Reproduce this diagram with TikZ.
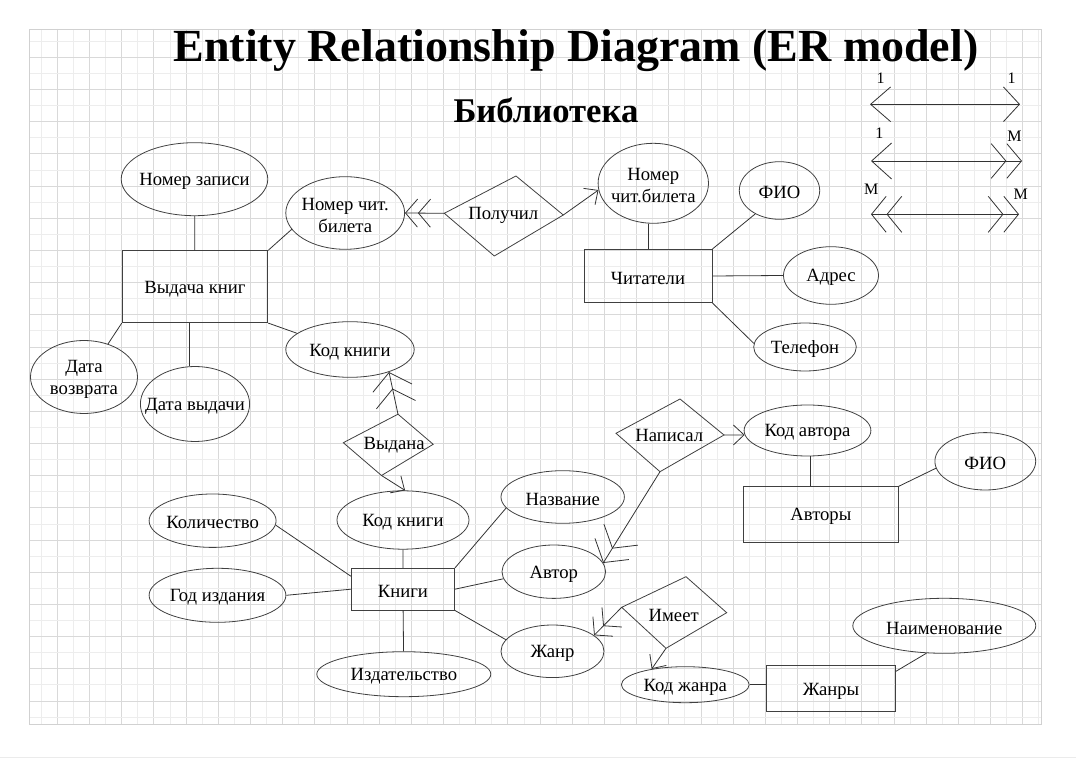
\documentclass[tikz,border=0pt]{standalone}
\usepackage{fontspec}
\setmainfont{Liberation Serif}
\usetikzlibrary{shapes.geometric,arrows.meta}

\begin{document}
\begin{tikzpicture}[x=0.75pt, y=-0.75pt,
    font=\fontsize{14}{16.5}\selectfont,
    line width=0.6pt,
    every label/.style={yshift=-1.7pt},
    gridminor/.style={black!7, line width=0.5pt},
    gridmajor/.style={black!15, line width=0.5pt},
    attr/.style 2 args={ellipse, draw=black!75, inner sep=0pt,
      minimum width=#1*1.5pt, minimum height=#2*1.5pt},
    ent/.style 2 args={rectangle, draw=black!75, inner sep=0pt,
      minimum width=#1*0.75pt, minimum height=#2*0.75pt},
    rel/.style={draw=black!75},
    link/.style={draw=black!80},
    toone/.style={-{Straight Barb[length=8pt,width=15pt]}},
    tomany/.style={-{Straight Barb[length=9pt,width=21pt,sep=0pt]Straight Barb[length=9pt,width=21pt,sep=0pt]}},
    tomanybig/.style={-{Straight Barb[length=12pt,width=30pt,sep=0pt]Straight Barb[length=12pt,width=30pt,sep=0pt]}},
    cardlabel/.style={font=\fontsize{12}{14}\selectfont},
  ]
  \useasboundingbox (0,0) rectangle (1076,762);
  % grid
  \foreach \n in {1,...,63}{
    \pgfmathsetmacro{\gx}{25.1+16.09*\n}
    \ifodd\n \draw[gridminor] (\gx,29) -- (\gx,724);
    \else \draw[gridmajor] (\gx,29) -- (\gx,724); \fi
  }
  \foreach \n in {1,...,43}{
    \pgfmathsetmacro{\gy}{25.1+16.09*\n}
    \ifodd\n \draw[gridminor] (29,\gy) -- (1041,\gy);
    \else \draw[gridmajor] (29,\gy) -- (1041,\gy); \fi
  }
  \draw[black!18] (29,29) rectangle (1041,724);
  \draw[black!8] (0,757) -- (1076,757);

  % titles
  \node[font=\fontsize{34.5}{40}\selectfont\bfseries, anchor=base] (ttl) at (576,61.7) {Entity Relationship Diagram (ER model)};
  \node[font=\fontsize{26}{30}\selectfont\bfseries, anchor=base] (sub) at (546,122.7) {Библиотека};

  % entities
  \node[ent={145.7}{72}, label=center:Выдача книг] (vydacha) at (195,286.7) {};
  \node[ent={128.2}{53.3}, label=center:Читатели] (chit) at (648,276) {};
  \node[ent={103.3}{41.7}, label=center:Книги] (knigi) at (402.9,589.2) {};
  \node[ent={154.9}{55.6}, label=center:Авторы] (avtory) at (820.9,514.5) {};
  \node[ent={129.3}{46}, label=center:Жанры] (zhanry) at (831,688.7) {};

  % attributes
  \node[attr={73.3}{36.5}, label=center:Номер записи] (nzap) at (194.5,179.2) {};
  \node[attr={59.4}{36.3}, label={[align=center]center:Номер чит.\\билета}] (nchit) at (345.2,213) {};
  \node[attr={64.2}{27.8}, label=center:Код книги] (kodkn1) at (350,349.5) {};
  \node[attr={53.5}{36.5}, label={[align=center]center:Дата\\возврата}] (datav) at (84,377) {};
  \node[attr={54.6}{37.5}, label=center:Дата выдачи] (datavyd) at (195,404) {};
  \node[attr={55.2}{40}, label={[align=center]center:Номер\\чит.билета}] (nchb) at (653.3,183.3) {};
  \node[attr={40.2}{28.8}, label=center:ФИО] (fio1) at (779.5,190.5) {};
  \node[attr={47.5}{28.8}, label=center:Адрес] (adres) at (831,275.5) {};
  \node[attr={51.3}{24}, label=center:Телефон] (tel) at (805,347) {};
  \node[attr={66}{29.2}, label=center:Код книги] (kodkn2) at (403,520) {};
  \node[attr={63.5}{26.7}, label=center:Количество] (kol) at (212.6,520.7) {};
  \node[attr={68.4}{27}, label=center:Год издания] (god) at (217.5,595.3) {};
  \node[attr={87}{22.5}, label=center:Издательство] (izd) at (403.8,674.2) {};
  \node[attr={61.7}{26.3}, label=center:Название] (nazv) at (562.7,497) {};
  \node[attr={51.8}{26.7}, label=center:Автор] (avtor) at (553.8,571.7) {};
  \node[attr={51.5}{26.3}, label=center:Жанр] (zhanr) at (552.5,651.3) {};
  \node[attr={63.4}{25.5}, label=center:Код автора] (kodavt) at (807.5,430.5) {};
  \node[attr={50.4}{28.7}, label=center:ФИО] (fio2) at (985.3,461.3) {};
  \node[attr={63.9}{18}, label=center:Код жанра] (kodzh) at (685.3,684.7) {};
  \node[attr={91.5}{27.5}, label=center:Наименование] (naim) at (944.3,625.8) {};

  % relationships
  \coordinate (pol-l) at (444.3,213.3);
  \coordinate (pol-t) at (516,176);
  \coordinate (pol-r) at (563.3,215);
  \coordinate (pol-b) at (494.3,256);
  \draw[rel] (pol-l) -- (pol-t) -- (pol-r) -- (pol-b) -- cycle;
  \node (pol) at (503.3,215) {Получил};

  \coordinate (vydana-l) at (343.3,442.7);
  \coordinate (vydana-t) at (398,414.2);
  \coordinate (vydana-r) at (433.2,444.3);
  \coordinate (vydana-b) at (381.5,475.5);
  \draw[rel] (vydana-l) -- (vydana-t) -- (vydana-r) -- (vydana-b) -- cycle;
  \node (vydana) at (394.2,445.5) {Выдана};

  \coordinate (napisal-l) at (616,433.3);
  \coordinate (napisal-t) at (680,399);
  \coordinate (napisal-r) at (724,435);
  \coordinate (napisal-b) at (660,471.7);
  \draw[rel] (napisal-l) -- (napisal-t) -- (napisal-r) -- (napisal-b) -- cycle;
  \node (napisal) at (669.2,435.5) {Написал};

  \coordinate (imeet-l) at (621.7,607.3);
  \coordinate (imeet-t) at (686,576.7);
  \coordinate (imeet-r) at (726.7,612.7);
  \coordinate (imeet-b) at (666,648.3);
  \draw[rel] (imeet-l) -- (imeet-t) -- (imeet-r) -- (imeet-b) -- cycle;
  \node (imeet) at (673.7,615) {Имеет};

  % connectors
  \draw[link] (nzap) -- (vydacha);
  \draw[link] (vydacha.north east) -- (nchit.197);
  \draw[link] (vydacha.south east) -- (kodkn1.163);
  \draw[link] (vydacha.south west) -- (datav.54);
  \draw[link] (datavyd.98) -- (datavyd.98 |- vydacha.south);
  \draw[link] (chit.north) -- (chit.north |- nchb.south);
  \draw[link] (chit.north east) -- (fio1.224);
  \draw[link] (chit.east) -- (adres.west);
  \draw[link] (chit.south east) -- (tel.176);
  \draw[link] (kodkn2) -- (knigi);
  \draw[link] (kol.356) -- (knigi.166);
  \draw[link] (god.east) -- (knigi.west);
  \draw[link] (knigi) -- (izd);
  \draw[link] (knigi.north east) -- (nazv.191);
  \draw[link] (knigi.east) -- (avtor.188);
  \draw[link] (knigi.south east) -- (zhanr.166);
  \draw[link] (kodavt.276) -- (kodavt.276 |- avtory.north);
  \draw[link] (avtory.north east) -- (fio2.188);
  \draw[link] (kodzh.east) -- (kodzh.east -| zhanry.west);
  \draw[link] (zhanry.15) -- (naim.237);

  \draw[link, tomany] (pol-l) -- (nchit.east);
  \draw[link, toone] (pol-r) -- (nchb.187);
  \draw[link, tomanybig] (vydana-t) -- (kodkn1.330);
  \draw[link, toone] (vydana-b) -- (kodkn2.86);
  \draw[link, toone] (napisal-r) -- (kodavt.184);
  \draw[link, tomanybig] (napisal-b) -- (avtor.10);
  \draw[link, tomany] (imeet-l) -- (zhanr.21);
  \draw[link, toone] (imeet-b) -- (kodzh.155);

  % legend
  \coordinate (l1) at (870,104.3);
  \coordinate (r1) at (1020,104.3);
  \coordinate (l2) at (871,161);
  \coordinate (r2) at (1022,161);
  \coordinate (l3) at (871,214.3);
  \coordinate (r3) at (1019,214.3);
  \draw[link, {Straight Barb[length=15pt,width=26pt]}-{Straight Barb[length=12pt,width=26pt]}] (l1) -- (r1);
  \draw[link, {Straight Barb[length=15pt,width=27pt]}-{Straight Barb[length=11pt,width=26pt,sep=0pt]Straight Barb[length=11pt,width=26pt,sep=0pt]}] (l2) -- (r2);
  \draw[link, {Straight Barb[length=11pt,width=27pt,sep=0pt]Straight Barb[length=11pt,width=27pt,sep=0pt]}-{Straight Barb[length=11pt,width=27pt,sep=0pt]Straight Barb[length=11pt,width=27pt,sep=0pt]}] (l3) -- (r3);
  \node[cardlabel] (c1a) at (880.7,78) {1};
  \node[cardlabel] (c1b) at (1011.7,78) {1};
  \node[cardlabel] (c2a) at (879.3,133.3) {1};
  \node[cardlabel] (c2b) at (1014.5,136.7) {M};
  \node[cardlabel] (c3a) at (871.2,189) {M};
  \node[cardlabel] (c3b) at (1020.8,194.3) {M};
\end{tikzpicture}
\end{document}
